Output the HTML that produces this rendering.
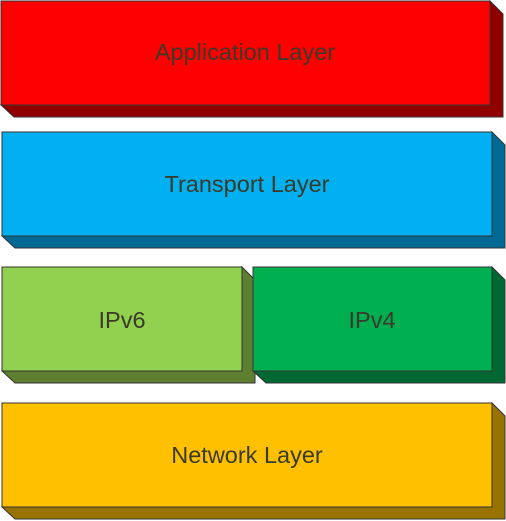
<!DOCTYPE html>
<html><head><style>body{margin:0;background:#fff}svg{display:block}text{font-family:"Liberation Sans",sans-serif;font-size:23.5px;fill:#3a3a2a;text-anchor:middle}</style></head>
<body>
<svg width="506" height="521" viewBox="0 0 506 521">
<g stroke="#333" stroke-width="1">
<polygon points="490,1 503,14 503,117 14,117 1,105 490,105" fill="#900000"/>
<rect x="1" y="1" width="489" height="104" fill="#ff0000"/>
<polygon points="492,132 505,145 505,248 15,248 2,236 492,236" fill="#006a94"/>
<rect x="2" y="132" width="490" height="104" fill="#00b0f0"/>
<polygon points="242,267 255,280 255,383 15,383 2,371 242,371" fill="#5e7e30"/>
<rect x="2" y="267" width="240" height="104" fill="#92d050"/>
<polygon points="492,267 505,280 505,383 266,383 253,371 492,371" fill="#006830"/>
<rect x="253" y="267" width="239" height="104" fill="#00b050"/>
<polygon points="492,403 505,416 505,519 15,519 2,507 492,507" fill="#997300"/>
<rect x="2" y="403" width="490" height="104" fill="#ffc000"/>
</g>
<text x="245" y="60">Application Layer</text>
<text x="247" y="192">Transport Layer</text>
<text x="122" y="328">IPv6</text>
<text x="372" y="328">IPv4</text>
<text x="247" y="463">Network Layer</text>
</svg>
</body></html>
